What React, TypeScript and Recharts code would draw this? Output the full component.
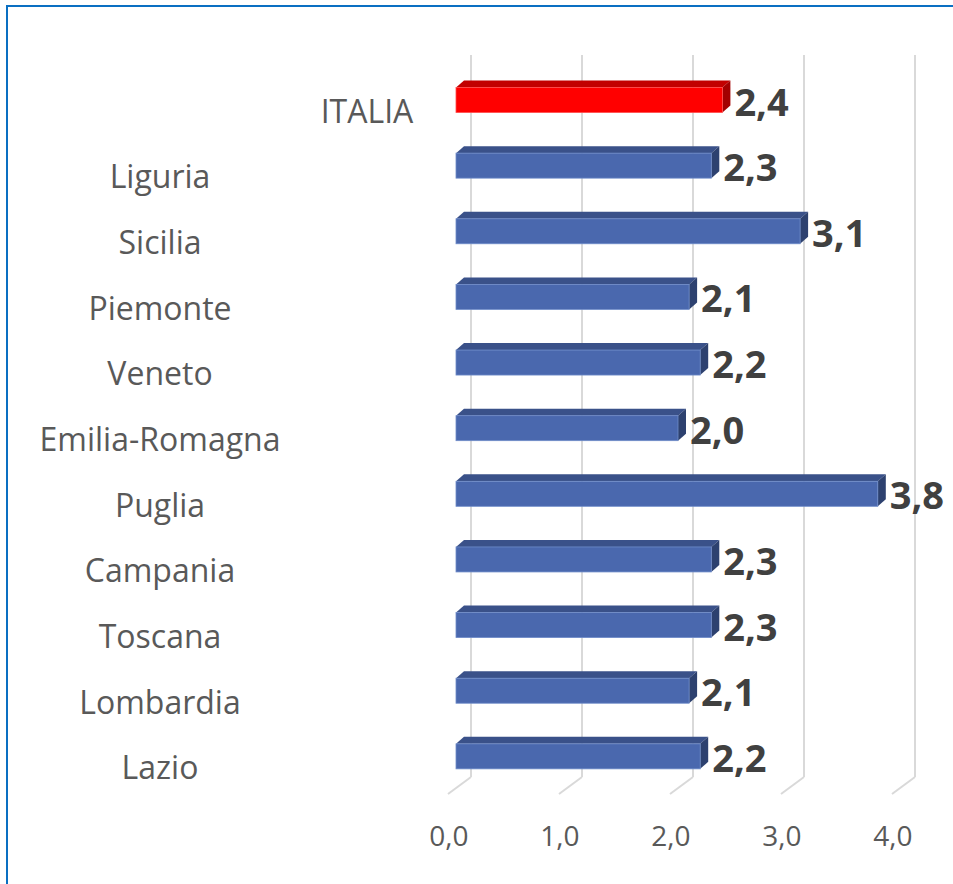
import { BarChart, Bar, XAxis, YAxis, CartesianGrid, LabelList } from "recharts";

// ---- data ----
const regions = [
  "ITALIA",
  "Liguria",
  "Sicilia",
  "Piemonte",
  "Veneto",
  "Emilia-Romagna",
  "Puglia",
  "Campania",
  "Toscana",
  "Lombardia",
  "Lazio",
];
const values = [2.4, 2.3, 3.1, 2.1, 2.2, 2.0, 3.8, 2.3, 2.3, 2.1, 2.2];
const xTicks = [0, 1, 2, 3, 4];
const highlighted = "ITALIA";

const data = regions.map((name, i) => ({ name, value: values[i] }));

const FONT = "'Open Sans', 'Noto Sans', sans-serif";
const DX = 8; // 3d depth, horizontal
const DY = 7; // 3d depth, vertical
const FRAME = "#0a6fc2";

const fmt = (v: number) => v.toFixed(1).replace(".", ",");

const BLUE = { front: "#4a68ae", top: "#3a5189", side: "#2d416f", edge: "#6f8cc9" };
const RED = { front: "#ff0000", top: "#c20000", side: "#a30000", edge: "#ff4d4d" };

function Bar3D(props: any) {
  const { x, y, width, height, payload } = props;
  const c = payload?.name === highlighted ? RED : BLUE;
  const fy = y + height / 2; // front face sits a bit lower (perspective)
  const h = height;
  const w = width;
  return (
    <g>
      <polygon
        points={`${x},${fy} ${x + DX},${fy - DY} ${x + w + DX},${fy - DY} ${x + w},${fy}`}
        fill={c.top}
      />
      <polygon
        points={`${x + w},${fy} ${x + w + DX},${fy - DY} ${x + w + DX},${fy + h - DY} ${x + w},${fy + h}`}
        fill={c.side}
      />
      <rect x={x} y={fy} width={w} height={h} fill={c.front} stroke={c.edge} strokeWidth={0.8} />
    </g>
  );
}

function ValueLabel(props: any) {
  const { x, y, width, height, value } = props;
  return (
    <text
      x={x + width + 12}
      y={y + height / 2 + 28}
      fontFamily={FONT}
      fontWeight={700}
      fontSize={38}
      fill="#404040"
    >
      {fmt(Number(value))}
    </text>
  );
}

function CategoryTick(props: any) {
  const { y, payload } = props;
  const cx = payload.value === highlighted ? 367 : 160;
  return (
    <text x={cx} y={y + 35} textAnchor="middle" fontFamily={FONT} fontSize={32} fill="#595959">
      {payload.value}
    </text>
  );
}

function ValueTick(props: any) {
  const { x, payload } = props;
  return (
    <text x={x - 7} y={846} textAnchor="middle" fontFamily={FONT} fontSize={28} fill="#595959">
      {fmt(Number(payload.value))}
    </text>
  );
}

// back-wall gridline plus the little floor segment
function GridLine(props: any) {
  const { x1, y1, y2, key } = props;
  const bx = x1 + 15;
  return (
    <g key={key}>
      <line x1={bx} y1={y1} x2={bx} y2={y2} stroke="#d9d9d9" strokeWidth={2} />
      <line x1={bx} y1={y2} x2={bx - 23} y2={y2 + 17} stroke="#d9d9d9" strokeWidth={2} />
    </g>
  );
}

export default function App() {
  return (
    <div
      style={{
        position: "fixed",
        left: 0,
        top: 0,
        width: 953,
        height: 884,
        background: "#fff",
        overflow: "hidden",
      }}
    >
      <BarChart
        width={953}
        height={884}
        data={data}
        layout="vertical"
        margin={{ top: 55, right: 53, bottom: 0, left: 0 }}
      >
        <CartesianGrid horizontal={false} vertical={GridLine} />
        <XAxis
          type="number"
          domain={[0, 4]}
          ticks={xTicks}
          axisLine={false}
          tickLine={false}
          height={107}
          tick={<ValueTick />}
          interval={0}
        />
        <YAxis
          type="category"
          dataKey="name"
          width={456}
          axisLine={false}
          tickLine={false}
          interval={0}
          tick={<CategoryTick />}
        />
        <Bar dataKey="value" barSize={25} shape={<Bar3D />} isAnimationActive={false}>
          <LabelList dataKey="value" content={<ValueLabel />} />
        </Bar>
      </BarChart>
      {/* frame: only top and left edges are visible in the picture */}
      <div style={{ position: "absolute", left: 6, top: 5, width: 947, height: 2, background: FRAME }} />
      <div style={{ position: "absolute", left: 6, top: 5, width: 2, height: 879, background: FRAME }} />
    </div>
  );
}
